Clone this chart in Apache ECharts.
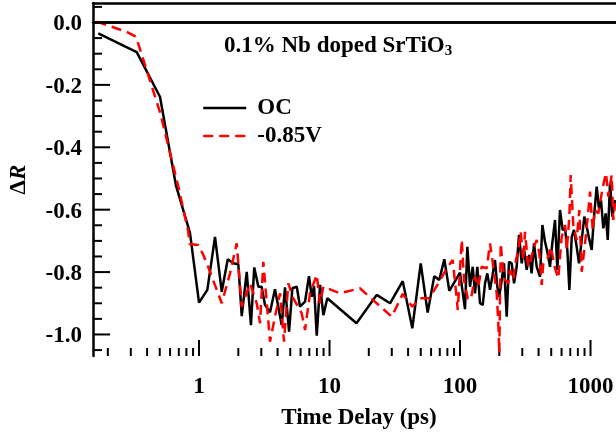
<!DOCTYPE html>
<html>
<head>
<meta charset="utf-8">
<script src="https://cdn.jsdelivr.net/npm/echarts@6/dist/echarts.min.js"></script>
<style>
  html, body { margin: 0; padding: 0; background: #fff; }
  #chart { width: 616px; height: 438px; }
</style>
</head>
<body>
<div id="chart"></div>
<script>
// OC (open circuit) trace
const ocTime = [0.169, 0.333, 0.502, 0.667, 0.805, 0.853, 1.0, 1.158, 1.326, 1.493, 1.66, 1.832, 2.0, 2.125, 2.32, 2.5, 2.65, 2.85, 3.02, 3.2, 3.5, 3.82, 4.05, 4.3, 4.56, 4.9, 5.19, 5.61, 5.94, 6.49, 6.96, 7.31, 7.61, 7.98, 8.46, 8.97, 9.62, 16.1, 23.0, 29.1, 36.4, 43.1, 50.0, 56.5, 63.5, 69.4, 75.8, 82.8, 100, 109.2, 113.8, 119.3, 125.1, 130.3, 135.7, 142.3, 149.3, 155.5, 161.9, 169.8, 176.8, 185.3, 193.1, 200, 208.7, 217.3, 227.9, 237.4, 248.9, 259.4, 271.8, 283.1, 297, 309.1, 324.3, 339.6, 354, 369, 387.1, 410.3, 427.6, 448, 466.8, 489.5, 509.5, 534.6, 557.2, 583.4, 612.2, 637.9, 664.3, 688.7, 717.8, 747.4, 783.4, 816.6, 856.5, 896.6, 935.4, 974.7, 1021, 1064, 1115, 1161, 1203, 1253, 1308, 1355, 1411, 1469, 1542];
const ocValue = [-0.035, -0.095, -0.238, -0.524, -0.639, -0.675, -0.898, -0.857, -0.687, -0.863, -0.759, -0.772, -0.775, -0.941, -0.799, -0.970, -0.785, -0.847, -0.847, -0.905, -0.929, -0.855, -0.911, -0.970, -0.849, -0.991, -0.852, -0.847, -0.911, -0.895, -0.813, -0.879, -0.845, -1.004, -0.841, -0.938, -0.884, -0.964, -0.873, -0.900, -0.829, -0.980, -0.772, -0.930, -0.813, -0.825, -0.759, -0.860, -0.802, -0.919, -0.719, -0.847, -0.783, -0.868, -0.783, -0.900, -0.905, -0.836, -0.804, -0.857, -0.815, -0.761, -0.847, -0.879, -0.825, -0.772, -0.943, -0.767, -0.772, -0.836, -0.783, -0.681, -0.772, -0.724, -0.793, -0.745, -0.804, -0.708, -0.783, -0.815, -0.649, -0.703, -0.735, -0.783, -0.708, -0.633, -0.793, -0.601, -0.665, -0.660, -0.729, -0.857, -0.687, -0.665, -0.719, -0.772, -0.697, -0.622, -0.654, -0.692, -0.729, -0.622, -0.526, -0.596, -0.569, -0.660, -0.612, -0.697, -0.515, -0.622, -0.569];

// -0.85 V trace
const biasTime = [0.164, 0.279, 0.329, 0.502, 0.694, 0.828, 0.846, 0.982, 1.079, 1.214, 1.493, 1.728, 1.945, 2.125, 2.46, 2.77, 2.935, 3.11, 3.5, 3.82, 4.18, 4.48, 4.83, 5.28, 6.12, 6.49, 7.09, 7.98, 8.46, 8.97, 12.0, 17.1, 29.97, 36.4, 43.1, 49.4, 58.2, 68.2, 79.1, 87.9, 93.2, 96.1, 103.1, 107.4, 114.6, 120.8, 130.3, 138.1, 146.6, 160.2, 169.8, 180.0, 191.0, 196.6, 200.0, 205.1, 212.4, 221.3, 234.5, 241.5, 255.9, 268.5, 279.9, 291.7, 305.5, 314.8, 333.4, 348.3, 369.0, 387.1, 405.5, 422.7, 434.5, 475.3, 495.5, 534.6, 566.2, 601.2, 638.3, 657.7, 688.7, 704.7, 738.0, 783.4, 820.4, 856.5, 907.8, 961.6, 990.8, 1040, 1082, 1147, 1219, 1269, 1315, 1368, 1453, 1496, 1542];
const biasValue = [0.003, -0.030, -0.046, -0.287, -0.526, -0.671, -0.710, -0.713, -0.745, -0.799, -0.900, -0.804, -0.708, -0.911, -0.836, -0.900, -0.964, -0.767, -1.023, -0.943, -0.868, -1.023, -0.836, -0.884, -0.932, -0.986, -0.868, -0.809, -0.900, -0.847, -0.868, -0.852, -0.943, -0.870, -0.911, -0.884, -0.884, -0.836, -0.788, -0.761, -0.863, -0.921, -0.697, -0.825, -0.884, -0.889, -0.815, -0.847, -0.783, -0.788, -0.708, -0.783, -0.868, -0.964, -1.060, -0.708, -0.783, -0.825, -0.836, -0.793, -0.825, -0.761, -0.729, -0.671, -0.761, -0.671, -0.783, -0.761, -0.719, -0.697, -0.740, -0.841, -0.772, -0.751, -0.719, -0.788, -0.820, -0.687, -0.649, -0.729, -0.622, -0.489, -0.649, -0.697, -0.601, -0.799, -0.708, -0.607, -0.542, -0.665, -0.601, -0.612, -0.547, -0.510, -0.483, -0.558, -0.489, -0.633, -0.579];

// axes
const xMin = 0.154;
const xMax = 1568;
const yMin = -1.069;
const yMax = 0.0625;
const xMajorTicks = [1, 10, 100, 1000];
const xTickLabels = ["1", "10", "100", "1000"];
const xMinorTicks = [0.2, 0.3, 0.4, 0.5, 0.6, 0.7, 0.8, 0.9, 2, 3, 4, 5, 6, 7, 8, 9, 20, 30, 40, 50, 60, 70, 80, 90, 200, 300, 400, 500, 600, 700, 800, 900];
const yMajorTicks = [0, -0.2, -0.4, -0.6, -0.8, -1.0];
const yTickLabels = ["0.0", "-0.2", "-0.4", "-0.6", "-0.8", "-1.0"];
const yMinorTicks = [0.05, -0.05, -0.1, -0.15, -0.25, -0.3, -0.35, -0.45, -0.5, -0.55, -0.65, -0.7, -0.75, -0.85, -0.9, -0.95, -1.05];

const FONT = "Liberation Serif";
const labelFont = "bold 23px \"Liberation Serif\"";

const zip = (xs, ys) => xs.map((x, i) => [x, ys[i]]);

const chart = echarts.init(document.getElementById("chart"));

chart.setOption({
  animation: false,
  backgroundColor: "#fff",
  title: {
    text: "{m|0.1% Nb doped SrTiO}{s|3}",
    left: 224,
    top: 33,
    padding: 0,
    textStyle: {
      rich: {
        m: { fontFamily: FONT, fontWeight: "bold", fontSize: 23, color: "#000", lineHeight: 26 },
        s: { fontFamily: FONT, fontWeight: "bold", fontSize: 15, color: "#000", lineHeight: 12, verticalAlign: "bottom" },
      },
    },
  },
  legend: {
    data: ["OC", "-0.85V"],
    orient: "vertical",
    left: 202,
    top: 96,
    padding: 0,
    itemWidth: 43,
    itemHeight: 14,
    itemGap: 4,
    itemStyle: { opacity: 0 },
    lineStyle: { width: 2.5 },
    textStyle: {
      fontFamily: FONT,
      fontWeight: "bold",
      fontSize: 23,
      color: "#000",
      lineHeight: 24,
      padding: [0, 0, 0, 6],
    },
  },
  grid: {
    left: 93,
    right: 0,
    top: 3,
    bottom: 82,
    containLabel: false,
  },
  xAxis: [
    {
      type: "log",
      min: xMin,
      max: xMax,
      name: "Time Delay (ps)",
      nameLocation: "middle",
      nameGap: 51,
      nameTextStyle: { fontFamily: FONT, fontWeight: "bold", fontSize: 23, color: "#000", padding: [0, 0, 0, 9] },
      axisLine: { lineStyle: { color: "#000", width: 2.5 } },
      axisTick: { show: false },
      axisLabel: { show: false },
      splitLine: { show: false },
    },
    {
      type: "log",
      position: "top",
      min: xMin,
      max: xMax,
      axisLine: { lineStyle: { color: "#000", width: 2.5 } },
      axisTick: { show: false },
      axisLabel: { show: false },
      splitLine: { show: false },
    },
  ],
  yAxis: {
    type: "value",
    min: yMin,
    max: yMax,
    name: "{d|Δ}{r|R}",
    nameLocation: "middle",
    nameRotate: 90,
    nameGap: 62,
    nameTextStyle: {
      rich: {
        d: { fontFamily: FONT, fontWeight: "bold", fontSize: 23, color: "#000" },
        r: { fontFamily: FONT, fontWeight: "bold", fontStyle: "italic", fontSize: 23, color: "#000" },
      },
    },
    axisLine: { lineStyle: { color: "#000", width: 2.5 } },
    axisTick: { show: false },
    axisLabel: { show: false },
    splitLine: { show: false },
  },
  series: [
    {
      name: "OC",
      type: "line",
      data: zip(ocTime, ocValue),
      symbol: "none",
      lineStyle: { color: "#000", width: 2.5 },
      itemStyle: { color: "#000" },
      z: 3,
      markLine: {
        silent: true,
        symbol: "none",
        label: { show: false },
        lineStyle: { color: "#000", width: 2.5, type: "solid" },
        data: [{ yAxis: 0 }],
      },
    },
    {
      name: "-0.85V",
      type: "line",
      data: zip(biasTime, biasValue),
      symbol: "none",
      lineStyle: { color: "#ff0000", width: 2.5, type: [10, 6] },
      itemStyle: { color: "#ff0000" },
      z: 4,
    },
    {
      // x ticks and labels, drawn inward from the bottom axis
      type: "custom",
      silent: true,
      clip: false,
      data: xMajorTicks.map((v, i) => [v, 1, i]).concat(xMinorTicks.map((v) => [v, 0, -1])),
      renderItem: (params, api) => {
        const p = api.coord([api.value(0), yMin]);
        const cs = params.coordSys;
        if (p[0] < cs.x - 1 || p[0] > cs.x + cs.width + 1) return;
        const major = api.value(1) === 1;
        const len = major ? 16 : 8;
        const children = [
          {
            type: "line",
            shape: { x1: p[0], y1: p[1], x2: p[0], y2: p[1] - len },
            style: { stroke: "#000", lineWidth: 2 },
          },
        ];
        if (major) {
          children.push({
            type: "text",
            x: p[0],
            y: p[1] + 31,
            style: {
              text: xTickLabels[api.value(2)],
              font: labelFont,
              fill: "#000",
              textAlign: "center",
              textVerticalAlign: "middle",
              align: "center",
              verticalAlign: "middle",
            },
          });
        }
        return { type: "group", children };
      },
    },
    {
      // y ticks and labels, drawn inward from the left axis
      type: "custom",
      silent: true,
      clip: false,
      data: yMajorTicks.map((v, i) => [xMin, v, 1, i]).concat(yMinorTicks.map((v) => [xMin, v, 0, -1])),
      renderItem: (params, api) => {
        const p = api.coord([xMin, api.value(1)]);
        const major = api.value(2) === 1;
        const len = major ? 17 : 9;
        const children = [
          {
            type: "line",
            shape: { x1: p[0], y1: p[1], x2: p[0] + len, y2: p[1] },
            style: { stroke: "#000", lineWidth: 2 },
          },
        ];
        if (major) {
          children.push({
            type: "text",
            x: p[0] - 11,
            y: p[1] + 2,
            style: {
              text: yTickLabels[api.value(3)],
              font: labelFont,
              fill: "#000",
              textAlign: "right",
              textVerticalAlign: "middle",
              align: "right",
              verticalAlign: "middle",
            },
          });
        }
        return { type: "group", children };
      },
    },
  ],
});
</script>
</body>
</html>
